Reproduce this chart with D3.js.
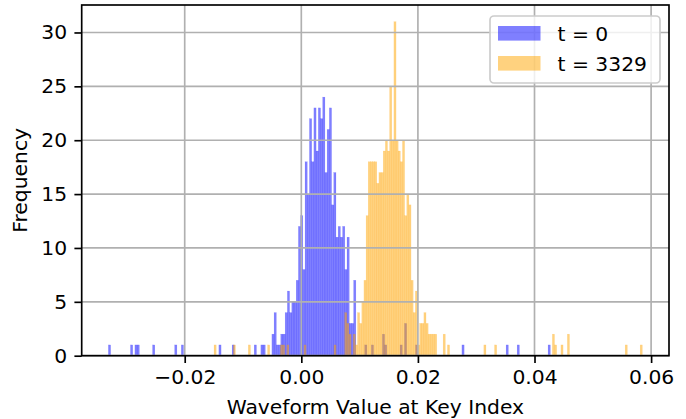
<!DOCTYPE html>
<html>
<head>
<meta charset="utf-8">
<script src="https://cdn.jsdelivr.net/npm/d3@7"></script>
<style>
    body { margin: 0; background: #fff; }
    svg { display: block; font-family: "DejaVu Sans", sans-serif; }
</style>
</head>
<body>
<svg id="chart" width="686" height="419"></svg>
<script>
// Two overlaid histograms, 200 bins each, every series binned over its own range.
const blueRange = [-0.03309, 0.04271];
const orangeRange = [-0.01497, 0.05849];

const blueCounts = [
    1, 0, 0, 0, 0, 0, 0, 0, 0, 0, 1, 0, 1, 1, 0, 0, 0, 0, 0, 0,
    1, 0, 0, 0, 0, 0, 0, 0, 0, 0, 1, 0, 0, 1, 0, 0, 0, 0, 0, 0,
    0, 0, 0, 0, 0, 0, 0, 0, 0, 0, 1, 0, 0, 0, 0, 0, 1, 0, 0, 0,
    0, 0, 0, 0, 0, 0, 1, 0, 0, 1, 1, 0, 0, 0, 2, 4, 1, 1, 2, 2,
    4, 6, 4, 5, 5, 7, 12, 13, 8, 18, 15, 22, 18, 23, 19, 23, 22, 24, 17, 21,
    23, 14, 17, 11, 12, 11, 12, 8, 11, 3, 3, 7, 0, 0, 0, 0, 1, 0, 0, 1,
    0, 0, 0, 0, 2, 1, 0, 0, 0, 0, 0, 0, 1, 0, 3, 0, 0, 0, 0, 1,
    0, 0, 0, 0, 0, 0, 0, 0, 0, 0, 0, 0, 0, 0, 0, 0, 0, 0, 0, 0,
    1, 0, 0, 0, 0, 0, 0, 0, 0, 0, 0, 0, 0, 0, 0, 0, 0, 0, 0, 0,
    1, 0, 0, 0, 0, 1, 0, 0, 0, 0, 0, 0, 0, 0, 0, 0, 0, 0, 0, 1
];

const orangeCounts = [
    1, 0, 0, 0, 0, 0, 0, 0, 0, 1, 0, 0, 0, 0, 0, 0, 1, 0, 0, 0,
    0, 0, 0, 0, 0, 1, 0, 0, 0, 0, 0, 1, 1, 0, 1, 0, 0, 0, 0, 0,
    0, 0, 1, 0, 0, 0, 0, 0, 0, 0, 0, 0, 0, 0, 0, 0, 1, 0, 0, 0,
    0, 4, 3, 2, 0, 2, 1, 4, 3, 5, 7, 13, 18, 18, 18, 18, 16, 17, 17, 19,
    20, 19, 25, 20, 31, 20, 19, 18, 20, 13, 15, 14, 7, 4, 6, 1, 3, 3, 4, 3,
    2, 2, 2, 2, 0, 0, 0, 2, 0, 1, 0, 0, 0, 0, 0, 0, 0, 0, 0, 0,
    0, 0, 0, 0, 0, 0, 1, 0, 0, 0, 0, 1, 0, 0, 0, 0, 0, 0, 0, 0,
    0, 0, 0, 0, 0, 0, 0, 0, 0, 0, 0, 0, 0, 0, 0, 0, 0, 0, 2, 1,
    0, 0, 1, 0, 0, 2, 0, 0, 0, 0, 0, 0, 0, 0, 0, 0, 0, 0, 0, 0,
    0, 0, 0, 0, 0, 0, 0, 0, 0, 0, 0, 0, 1, 0, 0, 0, 0, 0, 0, 1
];

const seriesLabels = ["t = 0", "t = 3329"];
const seriesColors = ["blue", "orange"];
const xTicks = [-0.02, 0, 0.02, 0.04, 0.06];
const yTicks = [0, 5, 10, 15, 20, 25, 30];
const xLabel = "Waveform Value at Key Index";
const yLabel = "Frequency";

const plot = { left: 81.7, right: 669, top: 5, bottom: 355.7 };
const lineWidth = 1.67;
const fontSize = 20.3;

const svg = d3.select("#chart");

// matplotlib-like 5% margins on x, 5% headroom on y
const dataLo = Math.min(blueRange[0], orangeRange[0]);
const dataHi = Math.max(blueRange[1], orangeRange[1]);
const pad = (dataHi - dataLo) * 0.05;
const x = d3.scaleLinear()
    .domain([dataLo - pad, dataHi + pad])
    .range([plot.left, plot.right]);
const yMax = d3.max([...blueCounts, ...orangeCounts]) * 1.05;
const y = d3.scaleLinear()
    .domain([0, yMax])
    .range([plot.bottom, plot.top]);

function binsOf(counts, range) {
    const width = (range[1] - range[0]) / counts.length;
    return counts
        .map((count, i) => ({ x0: range[0] + i * width, x1: range[0] + (i + 1) * width, count }))
        .filter(bin => bin.count > 0);
}

const series = [
    { bins: binsOf(blueCounts, blueRange), color: seriesColors[0] },
    { bins: binsOf(orangeCounts, orangeRange), color: seriesColors[1] }
];

// a hairline stroke in the bar colour gives the darker seams between neighbours
series.forEach(s => {
    svg.append("g")
        .selectAll("rect")
        .data(s.bins)
        .join("rect")
        .attr("x", bin => x(bin.x0))
        .attr("width", bin => x(bin.x1) - x(bin.x0))
        .attr("y", bin => y(bin.count))
        .attr("height", bin => y(0) - y(bin.count))
        .attr("fill", s.color)
        .attr("fill-opacity", 0.5)
        .attr("stroke", s.color)
        .attr("stroke-opacity", 0.25)
        .attr("stroke-width", 0.4);
});

// grid sits above the bars, as in the original
const grid = svg.append("g")
    .attr("stroke", "#b0b0b0")
    .attr("stroke-width", lineWidth);
grid.selectAll("line.gx")
    .data(xTicks)
    .join("line")
    .attr("class", "gx")
    .attr("x1", d => x(d)).attr("x2", d => x(d))
    .attr("y1", plot.top).attr("y2", plot.bottom);
grid.selectAll("line.gy")
    .data(yTicks)
    .join("line")
    .attr("class", "gy")
    .attr("x1", plot.left).attr("x2", plot.right)
    .attr("y1", d => y(d)).attr("y2", d => y(d));

const xAxis = svg.append("g")
    .attr("transform", `translate(0,${plot.bottom})`)
    .call(d3.axisBottom(x).tickValues(xTicks).tickFormat(d3.format(".2f"))
        .tickSize(7.3).tickPadding(6.5));
const yAxis = svg.append("g")
    .attr("transform", `translate(${plot.left},0)`)
    .call(d3.axisLeft(y).tickValues(yTicks).tickSize(7.3).tickPadding(7.3));

[xAxis, yAxis].forEach(axis => {
    axis.select(".domain").remove();
    axis.selectAll(".tick line").attr("stroke", "#000").attr("stroke-width", lineWidth);
    axis.selectAll(".tick text")
        .attr("fill", "#000")
        .style("font-size", `${fontSize}px`)
        .style("font-family", "DejaVu Sans");
});

svg.append("rect")
    .attr("x", plot.left).attr("y", plot.top)
    .attr("width", plot.right - plot.left)
    .attr("height", plot.bottom - plot.top)
    .attr("fill", "none")
    .attr("stroke", "#000")
    .attr("stroke-width", lineWidth);

svg.append("text")
    .attr("x", (plot.left + plot.right) / 2)
    .attr("y", 414)
    .attr("text-anchor", "middle")
    .style("font-size", `${fontSize}px`)
    .text(xLabel);

svg.append("text")
    .attr("transform", `translate(27,${(plot.top + plot.bottom) / 2}) rotate(-90)`)
    .attr("text-anchor", "middle")
    .style("font-size", `${fontSize}px`)
    .text(yLabel);

// legend, upper right
const legend = svg.append("g").attr("transform", "translate(490,16)");
legend.append("rect")
    .attr("width", 170).attr("height", 67)
    .attr("rx", 4)
    .attr("fill", "#fff").attr("fill-opacity", 0.8)
    .attr("stroke", "#cccccc").attr("stroke-width", lineWidth);
const entries = legend.selectAll("g.entry")
    .data(seriesLabels)
    .join("g")
    .attr("class", "entry")
    .attr("transform", (d, i) => `translate(8,${10 + i * 30})`);
entries.append("rect")
    .attr("width", 42.5).attr("height", 14.6)
    .attr("fill", (d, i) => seriesColors[i])
    .attr("fill-opacity", 0.5);
entries.append("text")
    .attr("x", 59.5).attr("y", 14.6)
    .style("font-size", `${fontSize}px`)
    .text(d => d);
</script>
</body>
</html>
